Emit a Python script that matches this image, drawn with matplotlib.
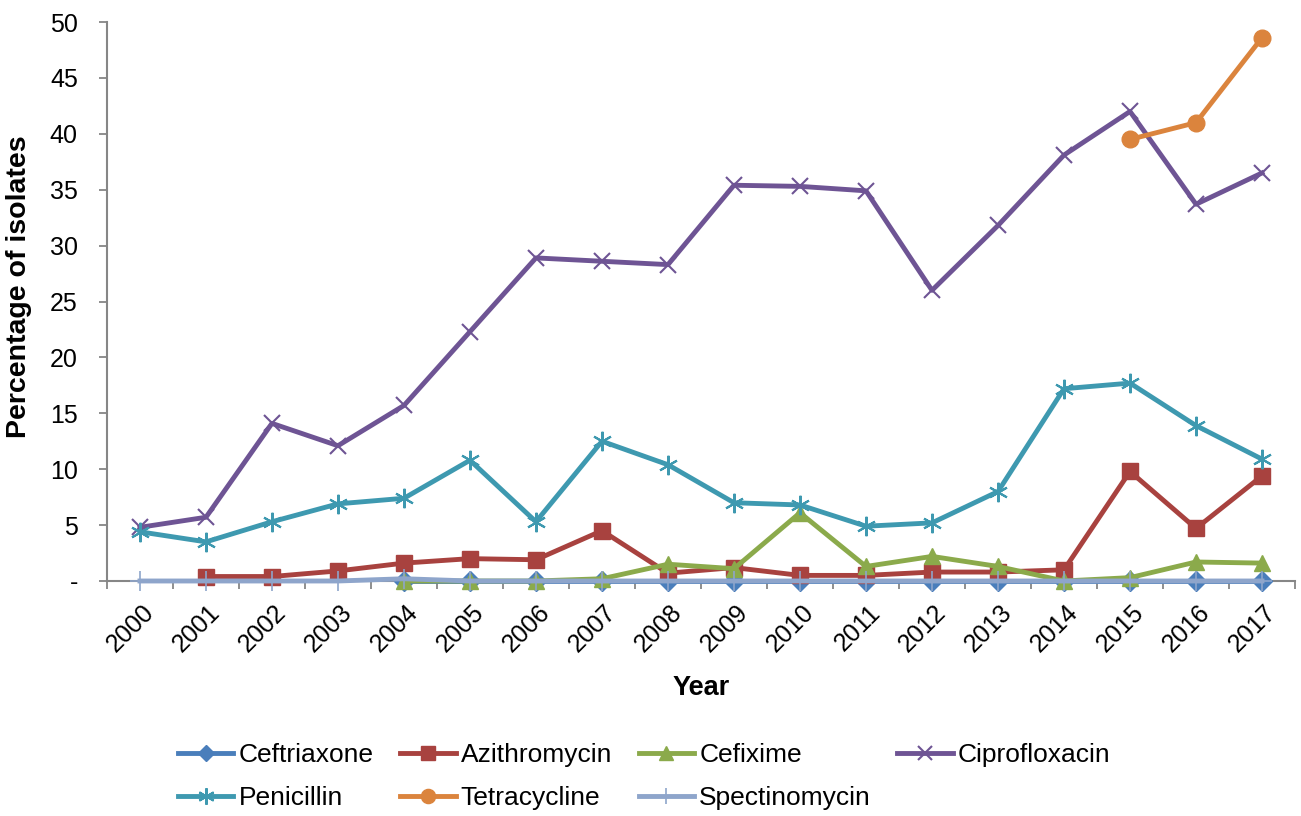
import numpy as np
import matplotlib.pyplot as plt
from matplotlib.ticker import FuncFormatter, FixedLocator
from matplotlib.transforms import ScaledTranslation

plt.rcParams['font.family'] = ['Liberation Sans', 'DejaVu Sans']

years = list(range(2000, 2018))

# resistance (% of isolates); None where not tested
ceftriaxone = [None] * 4 + [0] * 14
azithromycin = [None, 0.4, 0.4, 0.9, 1.6, 2.0, 1.9, 4.5, 0.7, 1.2, 0.5, 0.5, 0.8, 0.8, 1.0, 9.8, 4.7, 9.4]
cefixime = [None] * 4 + [0, 0, 0, 0.2, 1.5, 1.1, 6.1, 1.3, 2.2, 1.3, 0, 0.3, 1.7, 1.6]
ciprofloxacin = [4.8, 5.7, 14.1, 12.1, 15.7, 22.3, 28.9, 28.6, 28.3, 35.4, 35.3, 34.9, 26.0, 31.8, 38.1, 42.0, 33.7, 36.5]
penicillin = [4.4, 3.5, 5.3, 6.9, 7.4, 10.8, 5.3, 12.5, 10.4, 7.0, 6.8, 4.9, 5.2, 8.0, 17.2, 17.7, 13.9, 10.9]
tetracycline = [None] * 15 + [39.5, 41.0, 48.6]
spectinomycin = [0, 0, 0, 0, 0.2, 0, 0, 0, 0, 0, 0, 0, 0, 0, 0, 0, 0, 0]

# name, values, colour, marker, marker size, marker edge width
series = [
    ('Ceftriaxone', ceftriaxone, '#4A7EBB', 'D', 10, 1),
    ('Azithromycin', azithromycin, '#A8423F', 's', 12, 1),
    ('Cefixime', cefixime, '#8BAA4B', '^', 12, 1),
    ('Ciprofloxacin', ciprofloxacin, '#6E5494', 'x', 12, 1.5),
    ('Penicillin', penicillin, '#3E99B0', (6, 2, 0), 14, 1.5),
    ('Tetracycline', tetracycline, '#DB843D', 'o', 12, 1),
    ('Spectinomycin', spectinomycin, '#8EA5CB', '+', 14, 1.2),
]

fig = plt.figure(figsize=(13.01, 8.16), dpi=100)
ax = fig.add_axes([0.0822, 0.288, 0.9132, 0.685])

x = np.arange(len(years))
for name, vals, color, marker, ms, mew in series:
    y = np.array([np.nan if v is None else v for v in vals], dtype=float)
    ax.plot(x, y, color=color, linewidth=3.5, marker=marker, markersize=ms,
            markeredgewidth=mew, markeredgecolor=color, markerfacecolor=color,
            label=name, clip_on=False, zorder=3)

ax.set_xlim(-0.5, len(years) - 0.5)
ax.set_ylim(0, 50)
ax.set_yticks(range(0, 51, 5))
ax.yaxis.set_major_formatter(FuncFormatter(lambda v, p: '-' if v == 0 else f'{v:.0f}'))

# category labels at centres, tick marks at the boundaries
ax.set_xticks(x)
ax.set_xticklabels([str(yr) for yr in years], rotation=45, ha='right', va='top',
                   rotation_mode='anchor', fontsize=18)
ax.tick_params(axis='x', which='major', length=0, pad=14)
shift = ScaledTranslation(2 / 100, 0, fig.dpi_scale_trans)
for lbl in ax.get_xticklabels():
    lbl.set_transform(lbl.get_transform() + shift)
ax.xaxis.set_minor_locator(FixedLocator(np.arange(-0.5, len(years), 1)))
ax.tick_params(axis='x', which='minor', length=6, color='#868686', width=1.3)
ax.tick_params(axis='y', length=6, color='#868686', width=1.3, labelsize=18, pad=15)

for side in ('top', 'right'):
    ax.spines[side].set_visible(False)
for side in ('left', 'bottom'):
    ax.spines[side].set_color('#868686')
    ax.spines[side].set_linewidth(1.5)

ax.set_xlabel('Year', fontsize=19.5, fontweight='bold', labelpad=13)
ax.set_ylabel('Percentage of isolates', fontsize=20.5, fontweight='bold')
ax.yaxis.set_label_coords(-0.063, 0.526)

# legend reads row by row: reorder for matplotlib's column filling
handles, labels = ax.get_legend_handles_labels()
order = [0, 4, 1, 5, 2, 6, 3]
fig.legend([handles[i] for i in order], [labels[i] for i in order],
           loc='upper left', bbox_to_anchor=(178 / 1301, 1 - 743 / 816),
           ncol=4, frameon=False, fontsize=19, handlelength=2.1,
           handletextpad=0.2, columnspacing=1.0, labelspacing=0.72,
           borderpad=0, borderaxespad=0, markerscale=0.85)

fig.savefig('out.png', dpi=100, facecolor='white')
